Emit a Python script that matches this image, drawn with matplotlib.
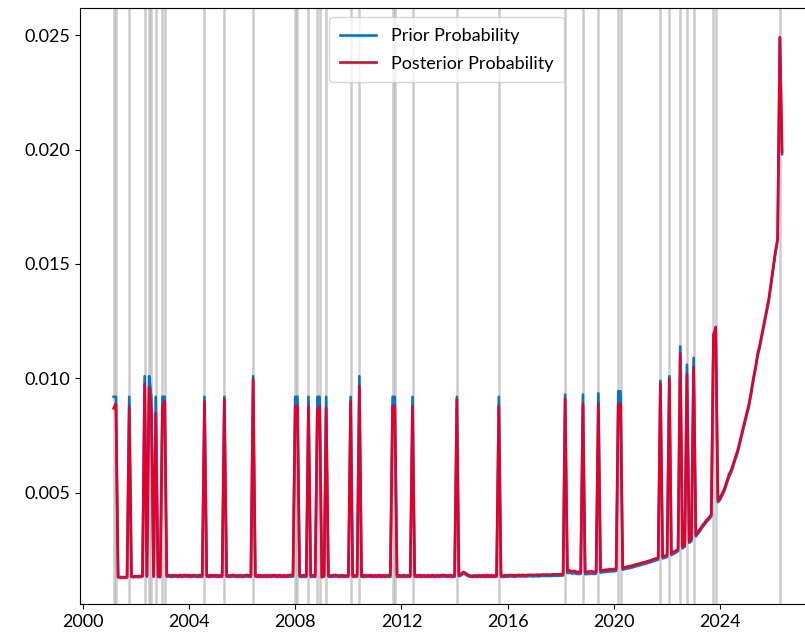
import matplotlib
matplotlib.use("Agg")
import matplotlib.pyplot as plt
import matplotlib.dates as mdates
import pandas as pd

plt.rcParams['font.family'] = ['Lato', 'DejaVu Sans']

start_month = '2001-03-01'

# monthly prior probability, Mar 2001 .. May 2026
prior = [
    0.0092, 0.0092, 0.00134, 0.00133, 0.00133, 0.00132, 0.00133, 0.0092, 0.00133, 0.00132,
    0.00133, 0.00132, 0.00133, 0.00134, 0.0101, 0.00134, 0.0101, 0.0092, 0.00133, 0.0092, 0.00133, 0.00132,
    0.0092, 0.0092, 0.00134, 0.00135, 0.00133, 0.00134, 0.00135, 0.00133, 0.00134, 0.00133, 0.00135, 0.00134,
    0.00134, 0.00133, 0.00135, 0.00134, 0.00133, 0.00134, 0.00133, 0.0092, 0.00134, 0.00133, 0.00134, 0.00135,
    0.00134, 0.00133, 0.00134, 0.00133, 0.0092, 0.00134, 0.00133, 0.00134, 0.00135, 0.00134, 0.00133, 0.00134,
    0.00133, 0.00134, 0.00135, 0.00134, 0.00133, 0.0101, 0.00134, 0.00133, 0.00134, 0.00133, 0.00134, 0.00133,
    0.00134, 0.00133, 0.00135, 0.00134, 0.00133, 0.00134, 0.00133, 0.00134, 0.00133, 0.00134, 0.00135, 0.00134,
    0.0092, 0.0092, 0.00134, 0.00133, 0.00134, 0.00133, 0.0092, 0.00133, 0.00134, 0.00133, 0.0092, 0.0092,
    0.00133, 0.00134, 0.0092, 0.00134, 0.00133, 0.00134, 0.00135, 0.00134, 0.00133, 0.00134, 0.00133, 0.00134,
    0.00133, 0.0092, 0.00134, 0.00133, 0.00134, 0.0101, 0.00134, 0.00133, 0.00134, 0.00135, 0.00134, 0.00133,
    0.00134, 0.00133, 0.00134, 0.00133, 0.00134, 0.00133, 0.00134, 0.00133, 0.0092, 0.0092, 0.00133, 0.00134,
    0.00133, 0.00134, 0.00133, 0.00134, 0.00133, 0.0092, 0.00134, 0.00133, 0.00134, 0.00133, 0.00134, 0.00133,
    0.00134, 0.00133, 0.00134, 0.00133, 0.00134, 0.00133, 0.00134, 0.00135, 0.00134, 0.00133, 0.00134, 0.00133,
    0.00134, 0.0092, 0.00136, 0.00140, 0.00148, 0.00144, 0.00137, 0.00134, 0.00133, 0.00134, 0.00133, 0.00134,
    0.00133, 0.00134, 0.00133, 0.00134, 0.00133, 0.00134, 0.00133, 0.00134, 0.0092, 0.00134, 0.00133, 0.00134,
    0.00134, 0.00136, 0.00135, 0.00134, 0.00135, 0.00136, 0.00135, 0.00136, 0.00135, 0.00136, 0.00137, 0.00136,
    0.00136, 0.00137, 0.00136, 0.00137, 0.00138, 0.00137, 0.00138, 0.00137, 0.00138, 0.00139, 0.00138, 0.00139,
    0.00139, 0.00140, 0.0093, 0.00150, 0.00152, 0.00148, 0.00150, 0.00147, 0.00146, 0.00147, 0.0093, 0.00145,
    0.00146, 0.00147, 0.00148, 0.00146, 0.00148, 0.00935, 0.00152, 0.00154, 0.00155, 0.00156, 0.00157, 0.00158,
    0.00158, 0.00160, 0.00944, 0.00944, 0.00165, 0.00168, 0.00170, 0.00172, 0.00174, 0.00177, 0.00180, 0.00182,
    0.00185, 0.00188, 0.00190, 0.00193, 0.00196, 0.00199, 0.00203, 0.00206, 0.00209, 0.0099, 0.00214, 0.00217,
    0.00221, 0.0101, 0.00229, 0.00234, 0.00240, 0.00246, 0.0114, 0.00258, 0.00266, 0.0106, 0.00282, 0.00290,
    0.0109, 0.00310, 0.00322, 0.00335, 0.00350, 0.00362, 0.00375, 0.00385, 0.00398, 0.0119, 0.0121, 0.0046,
    0.0047, 0.0049, 0.0051, 0.0054, 0.0057, 0.0059, 0.0062, 0.0065, 0.0068, 0.0072, 0.0076, 0.0080,
    0.0084, 0.0088, 0.0093, 0.0099, 0.0104, 0.0110, 0.0114, 0.0119, 0.0124, 0.0129, 0.0134, 0.0141,
    0.0148, 0.0155, 0.0160, 0.0249, 0.0198,
]

# monthly posterior probability, Mar 2001 .. May 2026
posterior = [
    0.0087, 0.0089, 0.00131, 0.00130, 0.00131, 0.00130, 0.00131, 0.00877, 0.00134, 0.00136,
    0.00137, 0.00136, 0.00138, 0.00137, 0.00975, 0.00138, 0.0096, 0.0086, 0.00137, 0.0085, 0.00138, 0.00137,
    0.0088, 0.0090, 0.00140, 0.00141, 0.00139, 0.00141, 0.00140, 0.00139, 0.00141, 0.00140, 0.00142, 0.00140,
    0.00141, 0.00139, 0.00141, 0.00140, 0.00139, 0.00141, 0.00140, 0.0090, 0.00140, 0.00139, 0.00141, 0.00140,
    0.00141, 0.00139, 0.00140, 0.00139, 0.0091, 0.00141, 0.00139, 0.00140, 0.00142, 0.00140, 0.00139, 0.00141,
    0.00139, 0.00140, 0.00142, 0.00140, 0.00139, 0.00997, 0.00140, 0.00139, 0.00141, 0.00139, 0.00140, 0.00139,
    0.00140, 0.00139, 0.00141, 0.00140, 0.00139, 0.00141, 0.00139, 0.00140, 0.00139, 0.00141, 0.00142, 0.00140,
    0.0088, 0.0088, 0.00140, 0.00139, 0.00141, 0.00139, 0.0088, 0.00139, 0.00140, 0.00139, 0.0086, 0.0088,
    0.00132, 0.00140, 0.0087, 0.00141, 0.00139, 0.00140, 0.00142, 0.00140, 0.00139, 0.00141, 0.00139, 0.00140,
    0.00139, 0.0090, 0.00140, 0.00139, 0.00141, 0.00967, 0.00135, 0.00141, 0.00139, 0.00140, 0.00141, 0.00139,
    0.00140, 0.00139, 0.00141, 0.00139, 0.00140, 0.00139, 0.00141, 0.00140, 0.0088, 0.0088, 0.00139, 0.00140,
    0.00139, 0.00141, 0.00139, 0.00140, 0.00139, 0.0088, 0.00140, 0.00139, 0.00141, 0.00139, 0.00140, 0.00139,
    0.00140, 0.00139, 0.00141, 0.00139, 0.00140, 0.00139, 0.00141, 0.00142, 0.00140, 0.00139, 0.00141, 0.00139,
    0.00140, 0.0091, 0.00142, 0.00147, 0.00155, 0.00150, 0.00143, 0.00139, 0.00138, 0.00140, 0.00139, 0.00140,
    0.00139, 0.00140, 0.00139, 0.00141, 0.00139, 0.00140, 0.00139, 0.00140, 0.0088, 0.00140, 0.00139, 0.00141,
    0.00140, 0.00142, 0.00141, 0.00140, 0.00141, 0.00142, 0.00141, 0.00142, 0.00141, 0.00142, 0.00143, 0.00142,
    0.00142, 0.00143, 0.00142, 0.00143, 0.00144, 0.00143, 0.00144, 0.00143, 0.00144, 0.00145, 0.00144, 0.00145,
    0.00145, 0.00146, 0.0091, 0.00160, 0.00162, 0.00157, 0.00160, 0.00156, 0.00155, 0.00157, 0.0089, 0.00154,
    0.00156, 0.00157, 0.00158, 0.00155, 0.00157, 0.0089, 0.00161, 0.00163, 0.00164, 0.00165, 0.00166, 0.00167,
    0.00167, 0.00169, 0.0089, 0.0089, 0.00172, 0.00176, 0.00178, 0.00180, 0.00182, 0.00185, 0.00188, 0.00190,
    0.00193, 0.00196, 0.00198, 0.00201, 0.00204, 0.00207, 0.00211, 0.00214, 0.00217, 0.0098, 0.00222, 0.00225,
    0.00229, 0.0100, 0.00237, 0.00242, 0.00248, 0.00254, 0.0111, 0.00266, 0.00274, 0.0102, 0.00290, 0.00298,
    0.0105, 0.00318, 0.00330, 0.00343, 0.00358, 0.00370, 0.00383, 0.00393, 0.00406, 0.0119, 0.01225, 0.00468,
    0.0048, 0.0050, 0.0052, 0.0055, 0.0058, 0.0060, 0.0063, 0.0066, 0.0069, 0.0073, 0.0077, 0.0081,
    0.0085, 0.0089, 0.0094, 0.0100, 0.0105, 0.0111, 0.0115, 0.0120, 0.0125, 0.0130, 0.0135, 0.0142,
    0.0149, 0.0156, 0.0161, 0.0249, 0.0199,
]

# months marked with grey vertical lines
event_months = [
    '2001-03', '2001-04', '2001-10', '2002-05', '2002-07', '2002-08', '2002-10',
    '2003-01', '2003-02', '2004-08', '2005-05', '2006-06', '2008-01', '2008-02',
    '2008-07', '2008-11', '2008-12', '2009-03', '2010-02', '2010-06', '2011-09',
    '2011-10', '2012-06', '2014-02', '2015-09', '2018-03', '2018-11', '2019-06',
    '2020-03', '2020-04', '2021-10', '2022-02', '2022-07', '2022-10', '2023-01',
    '2023-10', '2023-11', '2026-04',
]

series_labels = ['Prior Probability', 'Posterior Probability']
y_ticks = [0.005, 0.010, 0.015, 0.020, 0.025]

n = min(len(prior), len(posterior))
dates = pd.date_range(start_month, periods=n, freq='MS')

fig = plt.figure(figsize=(8.05, 6.36), dpi=100)
ax = fig.add_axes([80.3 / 805, 32 / 636, 733 / 805, 596 / 636])

for em in event_months:
    ax.axvline(pd.Timestamp(em + '-01'), color='gray', alpha=0.4, lw=1.8, zorder=0)

ax.plot(dates, prior[:n], color='#0a72c9', lw=1.9, label=series_labels[0])
ax.plot(dates, posterior[:n], color='#e4002b', lw=1.9, label=series_labels[1])

ax.set_xlim(pd.Timestamp('1999-11-28'), pd.Timestamp('2027-07-05'))
ax.set_ylim(0.00015, 0.02618)
ax.set_yticks(y_ticks)
ax.xaxis.set_major_locator(mdates.YearLocator(4))
ax.xaxis.set_major_formatter(mdates.DateFormatter('%Y'))
ax.tick_params(labelsize=13)

ax.legend(loc='upper center', fontsize=13, borderpad=0.6, labelspacing=0.65)

fig.savefig('out.png', dpi=100)
